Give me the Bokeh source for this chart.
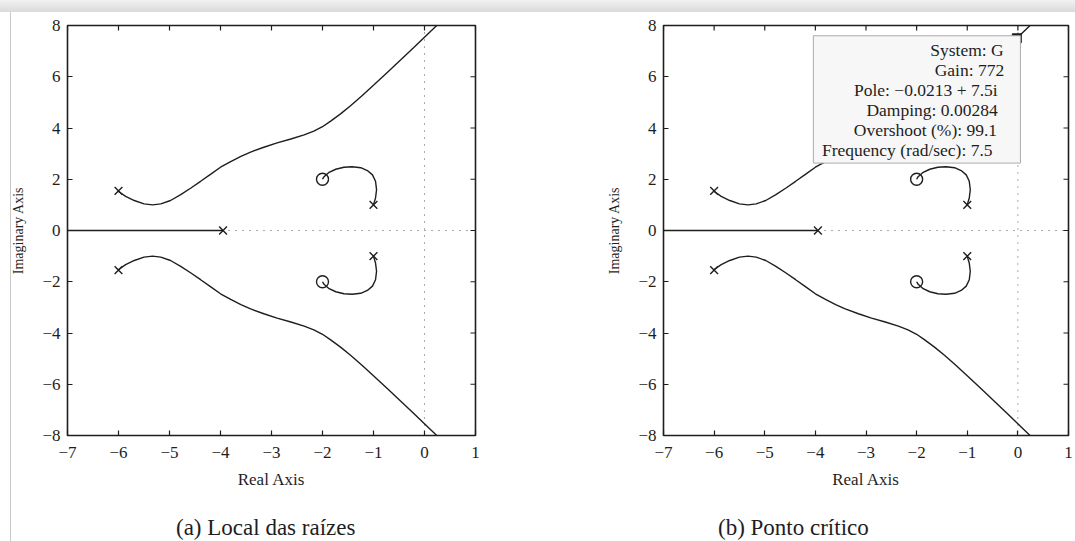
from math import pi

from bokeh.plotting import figure
from bokeh.layouts import row, column
from bokeh.models import Range1d, FixedTicker, Span, BoxAnnotation, Label, Div
from bokeh.embed import file_html
from bokeh.resources import INLINE

FONT = "Liberation Serif"
INK = "#1e1e1e"

# axis ticks
real_ticks = [-7, -6, -5, -4, -3, -2, -1, 0, 1]
real_tick_labels = ["−7", "−6", "−5", "−4", "−3", "−2", "−1", "0", "1"]
imag_ticks = [-8, -6, -4, -2, 0, 2, 4, 6, 8]
imag_tick_labels = ["−8", "−6", "−4", "−2", "0", "2", "4", "6", "8"]

# open-loop poles and zeros
pole_re = [-6.0, -6.0, -3.95, -1.0, -1.0]
pole_im = [1.55, -1.55, 0.0, 1.0, -1.0]
zero_re = [-2.0, -2.0]
zero_im = [2.0, -2.0]

# branch along the negative real axis
real_branch_re = [-7.0, -3.95]
real_branch_im = [0.0, 0.0]

# branches leaving -6 ± 1.55j towards the asymptotes
upper_re = [-6.02, -5.86, -5.69, -5.50, -5.33, -5.17, -4.98, -4.78, -4.58, -4.39,
            -4.19, -4.00, -3.80, -3.60, -3.41, -3.15, -2.89, -2.62, -2.36, -2.17,
            -2.00, -1.84, -1.64, -1.45, -1.22, -0.99, -0.73, -0.47, -0.21, -0.0213,
            0.24]
upper_im = [1.55, 1.33, 1.17, 1.04, 1.00, 1.04, 1.17, 1.40, 1.66, 1.92,
            2.20, 2.47, 2.69, 2.89, 3.06, 3.25, 3.42, 3.57, 3.73, 3.88,
            4.05, 4.27, 4.56, 4.87, 5.27, 5.69, 6.17, 6.65, 7.14, 7.50,
            8.00]
lower_re = [-6.02, -5.86, -5.69, -5.50, -5.33, -5.17, -4.98, -4.78, -4.58, -4.39,
            -4.19, -4.00, -3.80, -3.60, -3.41, -3.15, -2.89, -2.62, -2.36, -2.17,
            -2.00, -1.84, -1.64, -1.45, -1.22, -0.99, -0.73, -0.47, -0.21, -0.0213,
            0.24]
lower_im = [-1.55, -1.33, -1.17, -1.04, -1.00, -1.04, -1.17, -1.40, -1.66, -1.92,
            -2.20, -2.47, -2.69, -2.89, -3.06, -3.25, -3.42, -3.57, -3.73, -3.88,
            -4.05, -4.27, -4.56, -4.87, -5.27, -5.69, -6.17, -6.65, -7.14, -7.50,
            -8.00]

# branches from -1 ± j ending on the zeros -2 ± 2j
loop_up_re = [-1.00, -0.96, -0.94, -0.96, -1.02, -1.12, -1.25, -1.42, -1.58,
              -1.74, -1.87, -1.97, -2.00]
loop_up_im = [1.01, 1.27, 1.59, 1.92, 2.17, 2.34, 2.45, 2.49, 2.47,
              2.39, 2.27, 2.10, 2.00]
loop_dn_re = [-1.00, -0.96, -0.94, -0.96, -1.02, -1.12, -1.25, -1.42, -1.58,
              -1.74, -1.87, -1.97, -2.00]
loop_dn_im = [-1.01, -1.27, -1.59, -1.92, -2.17, -2.34, -2.45, -2.49, -2.47,
              -2.39, -2.27, -2.10, -2.00]

# data tip at the imaginary-axis crossing
tip_system = "G"
tip_gain = 772
tip_pole_re = -0.0213
tip_pole_im = 7.5
tip_damping = 0.00284
tip_overshoot = 99.1
tip_frequency = 7.5

captions = ["(a) Local das raízes", "(b) Ponto crítico"]

PLOT_H = 500


def locus_plot(width, b_left, b_right, b_top):
    p = figure(width=width, height=PLOT_H, x_range=Range1d(-7, 1), y_range=Range1d(-8, 8),
               output_backend="svg", toolbar_location=None,
               min_border_left=b_left, min_border_right=b_right,
               min_border_top=b_top, min_border_bottom=PLOT_H - 435)
    p.border_fill_color = None
    p.background_fill_color = "white"
    p.outline_line_color = INK
    p.outline_line_width = 1.6
    p.grid.visible = False

    for ax, ticks, labels in ((p.xaxis, real_ticks, real_tick_labels),
                              (p.yaxis, imag_ticks, imag_tick_labels)):
        ax.ticker = FixedTicker(ticks=ticks)
        ax.major_label_overrides = dict(zip(ticks, labels))
        ax.major_label_text_font = FONT
        ax.major_label_text_font_size = "17px"
        ax.major_label_text_color = INK
        ax.axis_label_text_font = FONT
        ax.axis_label_text_font_style = "normal"
        ax.axis_label_text_color = INK
        ax.axis_line_color = None
        ax.major_tick_in = 5
        ax.major_tick_out = 0
        ax.major_tick_line_color = INK
        ax.major_tick_line_width = 1.2
        ax.minor_tick_line_color = None
    p.xaxis.axis_label = "Real Axis"
    p.xaxis.axis_label_text_font_size = "17px"
    p.xaxis.major_label_standoff = 11
    p.xaxis.axis_label_standoff = 9
    p.yaxis.axis_label = "Imaginary Axis"
    p.yaxis.axis_label_text_font_size = "14px"
    p.yaxis.major_label_standoff = 7
    p.yaxis.axis_label_standoff = 13

    # mirrored tick marks along the top and right edges (half clipped by the frame)
    tick_kw = dict(marker="dash", size=10, line_color=INK, line_width=1.2)
    p.scatter(real_ticks, [8] * len(real_ticks), angle=pi / 2, **tick_kw)
    p.scatter([1] * len(imag_ticks), imag_ticks, **tick_kw)

    # dotted real and imaginary axes
    for dim in ("width", "height"):
        p.add_layout(Span(location=0, dimension=dim, line_color="#555555",
                          line_width=1, line_dash="1 6", level="underlay"))

    line_kw = dict(line_color=INK, line_width=1.4)
    p.line(real_branch_re, real_branch_im, **line_kw)
    p.line(upper_re, upper_im, **line_kw)
    p.line(lower_re, lower_im, **line_kw)
    p.line(loop_up_re, loop_up_im, **line_kw)
    p.line(loop_dn_re, loop_dn_im, **line_kw)
    p.scatter(pole_re, pole_im, marker="x", size=11, line_color=INK, line_width=1.4)
    p.scatter(zero_re, zero_im, marker="circle", size=12, fill_color=None,
              line_color=INK, line_width=1.4)
    return p


p1 = locus_plot(575, 67, 100, 23)
p2 = locus_plot(500, 88, 7, 25)

# data tip: marker on the selected pole and its info box
p2.scatter([tip_pole_re], [tip_pole_im], marker="square", size=9,
           fill_color=INK, line_color=INK)
p2.add_layout(BoxAnnotation(left=-4.04, right=0.05, bottom=2.63, top=7.6,
                            fill_color="#f7f7f7", fill_alpha=1.0,
                            line_color="#ababab", line_width=1, line_alpha=1.0))


def num(v):
    return f"{v}".replace("-", "−")


tip_lines = [
    f"System: {tip_system}",
    f"Gain: {tip_gain}",
    f"Pole: {num(tip_pole_re)} + {tip_pole_im:g}i",
    f"Damping: {tip_damping}",
    f"Overshoot (%): {tip_overshoot}",
    f"Frequency (rad/sec): {tip_frequency:g}",
]
tip_right = [-0.28, -0.27, -0.40, -0.40, -0.41, -0.50]
for i, (txt, xr) in enumerate(zip(tip_lines, tip_right)):
    p2.add_layout(Label(x=xr, y=7.03 - 0.78 * i, text=txt, text_align="right",
                        text_baseline="middle", text_font=FONT,
                        text_font_size="17.5px", text_color=INK))


def caption_div(text, width, pad_left):
    return Div(text=text, width=width, height=541 - PLOT_H, margin=0,
               styles={"font-family": f"'{FONT}', 'Times New Roman', serif",
                       "font-size": "23px", "color": INK, "white-space": "nowrap",
                       "line-height": "24px", "padding-top": "16px",
                       "padding-left": f"{pad_left}px", "box-sizing": "border-box"})


caps = row(caption_div(captions[0], 575, 176), caption_div(captions[1], 500, 143))

layout = column(row(p1, p2), caps, styles={
    "background": "linear-gradient(to bottom, #f2f2f2, #dadada) 0 0 / 100% 12px no-repeat, "
                  "linear-gradient(#c9c9c9, #c9c9c9) 10px 12px / 1px 100% no-repeat, #ffffff",
})

open("out.html", "w").write(file_html(layout, INLINE))
